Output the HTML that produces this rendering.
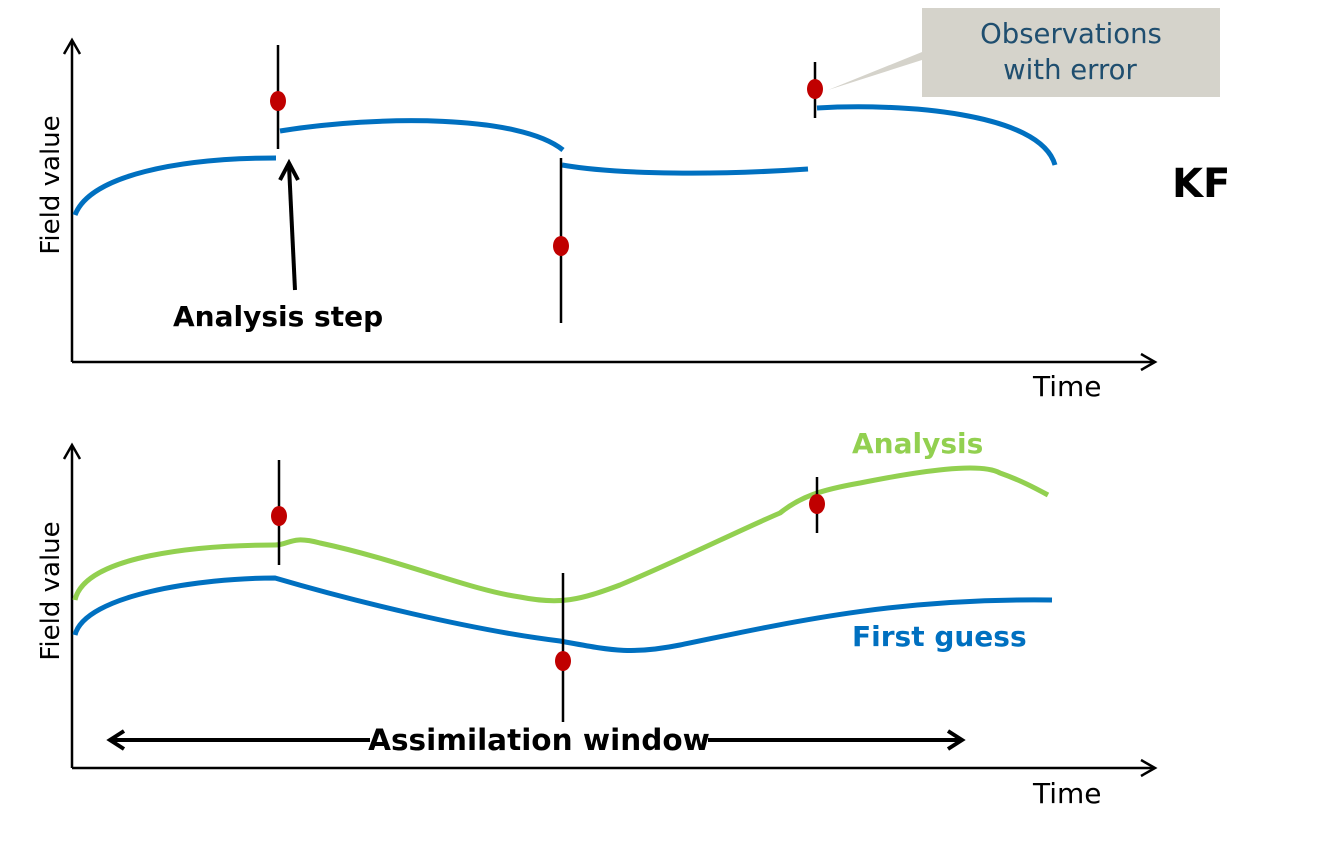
<!DOCTYPE html>
<html><head><style>html,body{margin:0;padding:0;background:#fff;}svg{display:block;}</style></head>
<body>
<svg width="1334" height="843" viewBox="0 0 1334 843" xmlns="http://www.w3.org/2000/svg" font-family="'DejaVu Sans','Liberation Sans',sans-serif">
<g stroke="#000" stroke-width="2.5" fill="none">
<line x1="72" y1="40" x2="72" y2="362"/><polyline points="64,54 72,40 80,54"/>
<line x1="72" y1="362" x2="1155" y2="362"/><polyline points="1141,354 1155,362 1141,370"/>
<line x1="72" y1="445" x2="72" y2="768"/><polyline points="64,459 72,445 80,459"/>
<line x1="72" y1="768" x2="1155" y2="768"/><polyline points="1141,760 1155,768 1141,776"/>
</g>
<g stroke="#0070C0" stroke-width="5" fill="none" stroke-linecap="butt">
<path d="M75,215 C90,175 180,158 276,158"/>
<path d="M280,131 C380,115 520,115 563,150"/>
<path d="M562,165 C620,175 720,175 808,169"/>
<path d="M817,108 C900,103 1040,112 1055,165"/>
</g>
<g stroke="#000" stroke-width="2.5">
<line x1="278" y1="45" x2="278" y2="149"/>
<line x1="561" y1="158" x2="561" y2="323"/>
<line x1="815" y1="62" x2="815" y2="118"/>
</g>
<g fill="#C00000">
<ellipse cx="278" cy="101" rx="8" ry="10"/>
<ellipse cx="561" cy="246" rx="8" ry="10"/>
<ellipse cx="815" cy="89" rx="8" ry="10"/>
</g>
<g stroke="#000" stroke-width="4" fill="none">
<line x1="295" y1="290" x2="289" y2="166"/>
<polyline points="280,180 289,163 298,180"/>
</g>
<text x="173" y="326" font-size="28" font-weight="bold">Analysis step</text>
<polygon points="922,8 1220,8 1220,97 922,97 922,60 828,90 922,52" fill="#D5D3CB"/>
<text x="1071" y="43" font-size="27.5" fill="#1F4E6F" text-anchor="middle">Observations</text>
<text x="1070" y="79" font-size="27.5" fill="#1F4E6F" text-anchor="middle">with error</text>
<text x="1172" y="197" font-size="40" font-weight="bold">KF</text>
<text transform="translate(59,185) rotate(-90)" font-size="26" text-anchor="middle">Field value</text>
<text x="1033" y="396" font-size="28">Time</text>
<path d="M75,600 C85,555 200,545 275,545 C290,545 290,535 320,543 C400,560 470,590 520,597 C560,605 580,600 620,585 C680,560 740,530 780,513 C800,497 820,490 860,483 C920,471 980,462 1000,473 C1020,480 1035,488 1048,495" stroke="#92D050" stroke-width="5" fill="none"/>
<path d="M75,635 C85,595 200,578 275,578 C350,600 470,630 560,641 C610,650 630,655 680,645 C800,620 900,598 1052,600" stroke="#0070C0" stroke-width="5" fill="none"/>
<g stroke="#000" stroke-width="2.5">
<line x1="279" y1="460" x2="279" y2="565"/>
<line x1="563" y1="573" x2="563" y2="735"/>
<line x1="817" y1="477" x2="817" y2="533"/>
</g>
<g fill="#C00000">
<ellipse cx="279" cy="516" rx="8" ry="10"/>
<ellipse cx="563" cy="661" rx="8" ry="10"/>
<ellipse cx="817" cy="504" rx="8" ry="10"/>
</g>
<text x="852" y="453" font-size="28" font-weight="bold" fill="#92D050">Analysis</text>
<text x="852" y="646" font-size="28" font-weight="bold" fill="#0070C0">First guess</text>
<g stroke="#000" stroke-width="4" fill="none">
<line x1="110" y1="740" x2="962" y2="740"/>
<polyline points="124,731 110,740 124,749"/>
<polyline points="948,731 962,740 948,749"/>
</g>
<rect x="370" y="722" width="338" height="36" fill="#fff"/>
<text x="539" y="750" font-size="29.5" font-weight="bold" text-anchor="middle">Assimilation window</text>
<text transform="translate(59,591) rotate(-90)" font-size="26" text-anchor="middle">Field value</text>
<text x="1033" y="803" font-size="28">Time</text>
</svg>
</body></html>
